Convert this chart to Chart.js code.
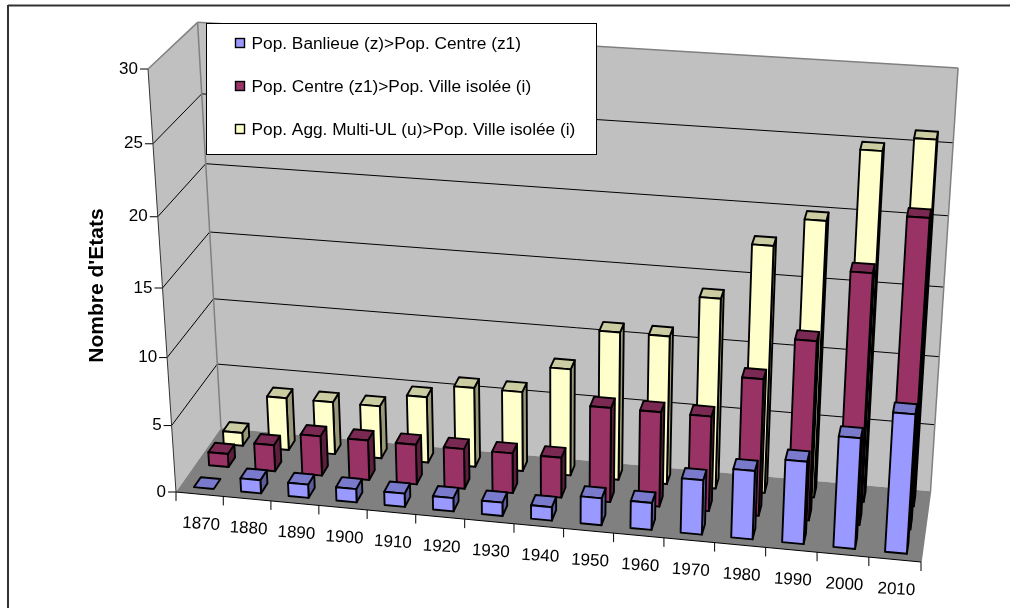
<!DOCTYPE html>
<html><head><meta charset="utf-8">
<style>html,body{margin:0;padding:0;background:#fff;overflow:hidden}#wrap{position:absolute;left:0;top:0;width:1010px;height:608px}</style>
<script src="https://cdn.jsdelivr.net/npm/chart.js@4/dist/chart.umd.js"></script>
</head><body><div id="wrap"><canvas id="c" width="1010" height="608"></canvas></div>
<script>
const categories = ['1870','1880','1890','1900','1910','1920','1930','1940','1950','1960','1970','1980','1990','2000','2010'];
const banlieue = [0,1,1,1,1,1,1,1,2,2,4,5,6,8,10];
const centre   = [1,2,3,3,3,3,3,3,7,7,7,10,13,18,22];
const multiUL  = [1,4,4,4,5,6,6,8,11,11,14,18,20,25,26];
const seriesNames = ['Pop. Banlieue (z)>Pop. Centre (z1)','Pop. Centre (z1)>Pop. Ville isolée (i)','Pop. Agg. Multi-UL (u)>Pop. Ville isolée (i)'];
const seriesColors = ['#9999ff','#993366','#ffffcc'];
const axisTitle = "Nombre d'Etats";
const valueMax = 30, valueStep = 5;
const depthCentres = [1/6, 1/2, 5/6];
const depthHalf = 0.075;

const boxFit = [
  [1,0,0,921,562],[0,1,0,148,69],[0,0,1,221,428],
  [1,0,1,931,491],[0,1,1,198,23],[1,1,1,958,68],
  [0,25/30,0,154,144],[0,5/30,0,172,426]
];
const boxOrigin = [176,492];
const axisEnds=[[921,562,1],[148,69,1],[221,428,1]];

function solve3(A,b){
  const m=A.map((r,i)=>[...r,b[i]]);
  for(let i=0;i<3;i++){
    let p=i;for(let k=i+1;k<3;k++)if(Math.abs(m[k][i])>Math.abs(m[p][i]))p=k;
    [m[i],m[p]]=[m[p],m[i]];
    for(let k=0;k<3;k++){if(k===i)continue;const f=m[k][i]/m[i][i];for(let j=i;j<4;j++)m[k][j]-=f*m[i][j];}
  }
  return m.map((r,i)=>r[3]/r[i]);
}
const O=[boxOrigin[0],boxOrigin[1],1];
function fitProjection(){
  const rows=[],rhs=[];
  for(const [x,v,z,u,w] of boxFit){
    const co=[x,v,z];
    const base=1-(x+v+z);
    [0,1].forEach(d=>{
      const t=d===0?u:w;
      rows.push(co.map((c,i)=>c*(axisEnds[i][d]-t*axisEnds[i][2])));
      rhs.push(-base*(O[d]-t*O[2]));
    });
  }
  const A=[[0,0,0],[0,0,0],[0,0,0]],b=[0,0,0];
  rows.forEach((r,n)=>{for(let i=0;i<3;i++){b[i]+=r[i]*rhs[n];for(let j=0;j<3;j++)A[i][j]+=r[i]*r[j];}});
  return solve3(A,b);
}
const fitted=fitProjection();
const cols=axisEnds.map((e,i)=>e.map((c,k)=>fitted[i]*c-O[k]));
function project(x,v,z){
  const h=[0,1,2].map(k=>x*cols[0][k]+v*cols[1][k]+z*cols[2][k]+O[k]);
  return [h[0]/h[2],h[1]/h[2]];
}
function poly(ctx,pts,fill,stroke,lw){
  ctx.beginPath();pts.forEach((p,i)=>i?ctx.lineTo(p[0],p[1]):ctx.moveTo(p[0],p[1]));ctx.closePath();
  if(fill){ctx.fillStyle=fill;ctx.fill();}
  if(stroke){ctx.strokeStyle=stroke;ctx.lineWidth=lw;ctx.lineJoin='round';ctx.stroke();}
}
function line(ctx,a,b,col,lw){ctx.beginPath();ctx.moveTo(a[0],a[1]);ctx.lineTo(b[0],b[1]);ctx.strokeStyle=col;ctx.lineWidth=lw;ctx.stroke();}
function shade(hex,f){
  const n=parseInt(hex.slice(1),16);
  return 'rgb('+[(n>>16)&255,(n>>8)&255,n&255].map(c=>Math.round(c*f)).join(',')+')';
}

// Bars keep the library's layout; only their drawing goes through the box projection.
Chart.BarElement.prototype.draw=function(ctx){
  const a=this.$area;
  const {x,y,base,width}=this.getProps(['x','y','base','width']);
  const u0=(x-width/2-a.left)/a.width,u1=(x+width/2-a.left)/a.width;
  const v0=(a.bottom-base)/a.height,v1=(a.bottom-y)/a.height;
  const zc=depthCentres[this.$series],z0=zc-depthHalf,z1=zc+depthHalf;
  const col=this.options.backgroundColor;
  const P=project;
  const lw=1.9;
  ctx.save();
  if(v1-v0<1e-6){
    poly(ctx,[P(u0,0,z0),P(u1,0,z0),P(u1,0,z1),P(u0,0,z1)],shade(col,0.8),'#000',lw);
  }else{
    poly(ctx,[P(u1,v0,z0),P(u1,v0,z1),P(u1,v1,z1),P(u1,v1,z0)],shade(col,0.6),'#000',lw);
    poly(ctx,[P(u0,v1,z0),P(u1,v1,z0),P(u1,v1,z1),P(u0,v1,z1)],shade(col,0.8),'#000',lw);
    poly(ctx,[P(u0,v0,z0),P(u1,v0,z0),P(u1,v1,z0),P(u0,v1,z0)],col,'#000',lw);
  }
  ctx.restore();
};

const labelFont='17px "Liberation Sans", Arial, sans-serif';
const legendFont='17.3px "Liberation Sans", Arial, sans-serif';
const boxPlugin={
  id:'box3d',
  beforeDatasetsDraw(chart){
    chart.data.datasets.forEach((d,i)=>chart.getDatasetMeta(i).data.forEach(el=>{el.$area=chart.chartArea;el.$series=i;}));
    const ctx=chart.ctx,sy=chart.scales.y,sx=chart.scales.x,a=chart.chartArea;
    ctx.save();
    // outer frame: only the top and left edges show in the picture
    line(ctx,[8,5.5],[1010,5.5],'#333',2);
    line(ctx,[8,5],[8,608],'#333',2);
    const g=project;
    poly(ctx,[g(0,0,0),g(0,1,0),g(0,1,1),g(0,0,1)],'#c0c0c0');
    poly(ctx,[g(0,0,1),g(0,1,1),g(1,1,1),g(1,0,1)],'#c0c0c0');
    poly(ctx,[g(0,0,0),g(0,0,1),g(1,0,1),g(1,0,0)],'#808080');
    ctx.font=labelFont;ctx.fillStyle='#000';
    sy.ticks.forEach(t=>{
      const v=(a.bottom-sy.getPixelForValue(t.value))/a.height;
      const p0=g(0,v,0),p1=g(0,v,1),p2=g(1,v,1);
      if(t.value>0&&t.value<valueMax){line(ctx,p0,p1,'#000',1);line(ctx,p1,p2,'#000',1);}
      line(ctx,[p0[0]-8,p0[1]],p0,'#000',1);
      ctx.textAlign='right';ctx.textBaseline='middle';
      ctx.fillText(String(t.value),p0[0]-10,p0[1]);
    });
    line(ctx,g(0,1,0),g(0,1,1),'#808080',1.5);
    line(ctx,g(0,1,1),g(1,1,1),'#808080',1.5);
    line(ctx,g(1,1,1),g(1,0,1),'#808080',1.5);
    line(ctx,g(0,1,1),g(0,0,1),'#808080',1.5);
    line(ctx,g(1,0,1),g(1,0,0),'#808080',1.5);
    line(ctx,g(0,1,0),g(0,0,0),'#333',1);
    line(ctx,g(0,0,0),g(1,0,0),'#000',1);
    const slope=Math.atan2(g(1,0,0)[1]-g(0,0,0)[1],g(1,0,0)[0]-g(0,0,0)[0]);
    const n=sx.ticks.length;
    for(let i=0;i<=n;i++){
      const p=g(i/n,0,0);line(ctx,p,[p[0],p[1]+9],'#000',1);
    }
    sx.ticks.forEach((t,i)=>{
      const u=(sx.getPixelForTick(i)-a.left)/a.width;
      const p=g(u,0,0);
      ctx.save();ctx.translate(p[0]+1.5,p[1]+30);ctx.rotate(slope*0.6);
      ctx.textAlign='center';ctx.textBaseline='middle';ctx.fillText(t.label,0,0);ctx.restore();
    });
    ctx.restore();
  },
  afterDatasetsDraw(chart){
    const ctx=chart.ctx;
    ctx.save();
    ctx.fillStyle='#fff';ctx.fillRect(207,23,390,131);
    ctx.strokeStyle='#000';ctx.lineWidth=1;ctx.strokeRect(206.5,23.5,390,131);
    ctx.font=legendFont;ctx.textBaseline='middle';ctx.textAlign='left';
    const rows=[44,87,130];
    chart.data.datasets.forEach((d,i)=>{
      ctx.fillStyle=d.backgroundColor;ctx.fillRect(235.5,rows[i]-5.5,9,9);
      ctx.strokeStyle='#000';ctx.lineWidth=1.4;ctx.strokeRect(235.5,rows[i]-5.5,9,9);
      ctx.fillStyle='#000';ctx.fillText(d.label,251.5,rows[i]);
    });
    ctx.restore();
  }
};

new Chart(document.getElementById('c'),{
  type:'bar',
  data:{labels:categories,datasets:[banlieue,centre,multiUL].map((v,i)=>({
    label:seriesNames[i],data:v,backgroundColor:seriesColors[i],grouped:false,clip:false,
    barPercentage:0.42,categoryPercentage:1
  }))},
  options:{
    responsive:false,animation:false,
    layout:{padding:{left:85,right:60,top:79,bottom:116}},
    plugins:{legend:{display:false},tooltip:{enabled:false}},
    scales:{
      x:{display:false,ticks:{autoSkip:false}},
      y:{min:0,max:valueMax,ticks:{stepSize:valueStep,display:false},grid:{display:false},border:{display:false},
         title:{display:true,text:axisTitle,color:'#000',font:{family:'"Liberation Sans", Arial, sans-serif',size:21,weight:'bold'},padding:{top:0,bottom:8}}}
    }
  },
  plugins:[boxPlugin]
});
</script></body></html>
